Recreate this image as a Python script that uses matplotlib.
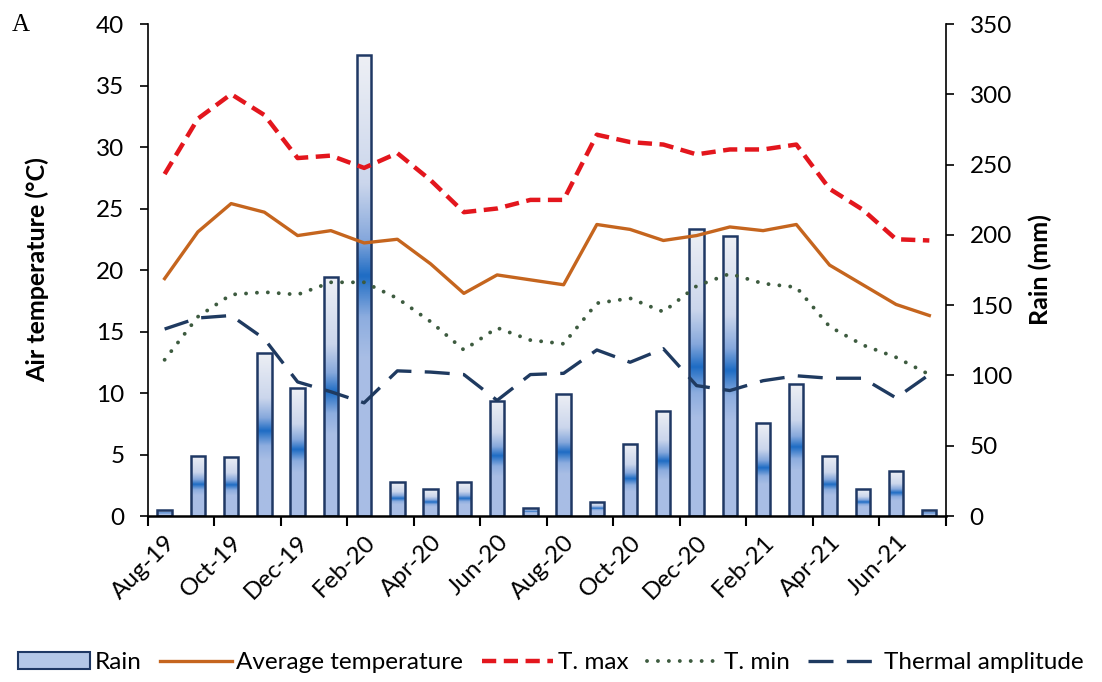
import numpy as np
import matplotlib
matplotlib.use("Agg")
import matplotlib.pyplot as plt
from matplotlib.colors import LinearSegmentedColormap
from matplotlib.patches import Rectangle, Patch

plt.rcParams.update({
    "font.family": ["Lato", "DejaVu Sans"],
    "font.size": 17.5,
    "xtick.labelsize": 17.5,
    "ytick.labelsize": 17.5,
})

months = ["Aug-19", "Sep-19", "Oct-19", "Nov-19", "Dec-19", "Jan-20", "Feb-20", "Mar-20",
          "Apr-20", "May-20", "Jun-20", "Jul-20", "Aug-20", "Sep-20", "Oct-20", "Nov-20",
          "Dec-20", "Jan-21", "Feb-21", "Mar-21", "Apr-21", "May-21", "Jun-21", "Jul-21"]

rain = [4, 43, 42, 116, 91, 170, 328, 24, 19, 24, 82, 6,
        87, 10, 51, 75, 204, 199, 66, 94, 43, 19, 32, 4]
t_avg = [19.3, 23.1, 25.4, 24.7, 22.8, 23.2, 22.2, 22.5, 20.5, 18.1, 19.6, 19.2,
         18.8, 23.7, 23.3, 22.4, 22.8, 23.5, 23.2, 23.7, 20.4, 18.8, 17.2, 16.3]
t_max = [27.8, 32.3, 34.3, 32.6, 29.1, 29.3, 28.3, 29.5, 27.3, 24.7, 25.0, 25.7,
         25.7, 31.0, 30.4, 30.2, 29.4, 29.8, 29.8, 30.2, 26.6, 24.9, 22.5, 22.4]
t_min = [12.7, 16.2, 18.0, 18.2, 18.0, 19.0, 19.0, 17.7, 15.8, 13.5, 15.3, 14.3,
         14.0, 17.3, 17.7, 16.6, 18.7, 19.7, 18.9, 18.6, 15.4, 13.9, 12.9, 11.5]
t_amp = [15.2, 16.1, 16.3, 14.4, 10.9, 10.1, 9.2, 11.8, 11.7, 11.5, 9.4, 11.5,
         11.6, 13.5, 12.5, 13.6, 10.6, 10.2, 11.0, 11.4, 11.2, 11.2, 9.6, 11.5]

x = np.arange(len(months))
bar_w = 0.43
edge = "#1F3864"

fig = plt.figure(figsize=(11.02, 6.82), dpi=100)
ax = fig.add_axes([0.1343, 0.2434, 0.7241, 0.7214])
ax2 = ax.twinx()

# rain bars with vertical gradient (right axis)
grad = LinearSegmentedColormap.from_list("rain", [
    (0.0, "#EEF0F5"), (0.28, "#CBD6EC"), (0.40, "#86A8DC"), (0.48, "#1E6CC4"),
    (0.57, "#8DADDF"), (0.66, "#A9BEE5"), (1.0, "#A8BDE5")])
g = np.linspace(0, 1, 256).reshape(-1, 1)
for xi, r in zip(x, rain):
    rect = Rectangle((xi - bar_w / 2, 0), bar_w, r, facecolor="none",
                     edgecolor=edge, linewidth=1.8, zorder=3)
    ax2.add_patch(rect)
    im = ax2.imshow(g, cmap=grad, aspect="auto", origin="upper",
                    extent=[xi - bar_w / 2, xi + bar_w / 2, 0, r], zorder=2)
    im.set_clip_path(rect)

# temperature lines (left axis, above bars)
ax.set_zorder(ax2.get_zorder() + 1)
ax.patch.set_visible(False)
ax.plot(x, t_avg, color="#C5651E", linewidth=2.4, label="Average temperature")
ax.plot(x, t_max, color="#E3161D", linewidth=3.2, dashes=(3.2, 1.7),
        label="T. max")
ax.plot(x, t_min, color="#3D5B3F", linewidth=2.8, dashes=(0.01, 2.8),
        dash_capstyle="round", label="T. min")
ax.plot(x, t_amp, color="#1F3A60", linewidth=2.4, dashes=(7.5, 4),
        label="Thermal amplitude")

ax.set_xlim(-0.5, 23.5)
ax.set_ylim(0, 40)
ax.set_yticks(np.arange(0, 41, 5))
ax2.set_xlim(-0.5, 23.5)
ax2.set_ylim(0, 350)
ax2.set_yticks(np.arange(0, 351, 50))

ax.set_xticks(x[::2])
ax.set_xticklabels(months[::2], rotation=45, ha="right", rotation_mode="anchor")
ax.set_xticks(np.arange(-0.5, 24, 2), minor=True)
ax.tick_params(axis="x", which="major", length=0, pad=11)
ax.tick_params(axis="x", which="minor", length=7, width=1.5)
ax.tick_params(axis="y", length=6, width=1.2, pad=11)
ax2.tick_params(axis="y", length=6, width=1.2, pad=11)

for a in (ax, ax2):
    a.spines["top"].set_visible(False)
ax.spines["right"].set_visible(False)
ax2.spines["left"].set_visible(False)
ax.spines["left"].set_linewidth(1.2)
ax2.spines["right"].set_linewidth(1.2)
ax2.spines["bottom"].set_visible(False)
ax.spines["bottom"].set_linewidth(1.8)

ax.set_ylabel("Air temperature (°C)", fontweight="bold", fontsize=18, labelpad=34)
ax2.set_ylabel("Rain (mm)", fontweight="bold", fontsize=18, labelpad=12)

fig.text(0.011, 0.963, "A", family="Liberation Serif", fontsize=18, va="center")

handles = [Patch(facecolor="#B4C7E7", edgecolor=edge, linewidth=1.5, label="Rain")]
handles += ax.get_lines()
fig.legend(handles=handles, loc="center", bbox_to_anchor=(0.5, 0.028), ncol=5,
           frameon=False, fontsize=17.5, handlelength=2.95, handletextpad=0.2,
           columnspacing=0.75)

fig.savefig("out.png", dpi=100)
